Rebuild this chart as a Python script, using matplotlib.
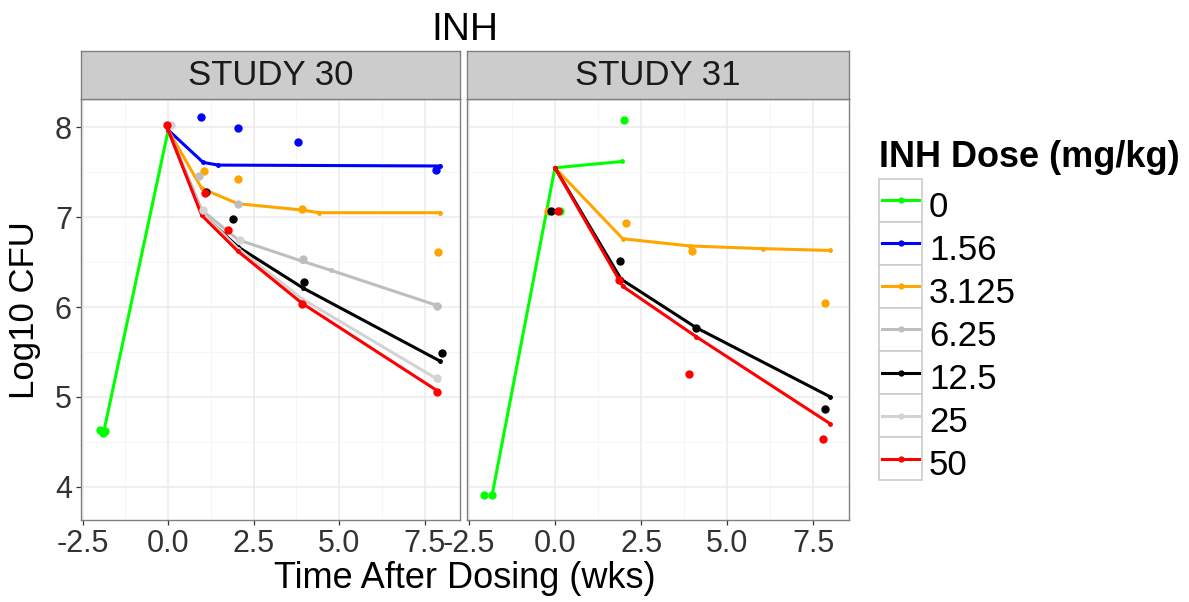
import matplotlib
matplotlib.use("Agg")
import matplotlib.pyplot as plt
from matplotlib.lines import Line2D
from matplotlib.patches import Rectangle
from matplotlib.legend_handler import HandlerBase

plt.rcParams['font.family'] = ['Liberation Sans', 'DejaVu Sans']

# dose groups and colours
doses = ['0', '1.56', '3.125', '6.25', '12.5', '25', '50']
colors = ['#00ff00', '#0000ff', '#ffa500', '#bebebe', '#000000', '#d3d3d3', '#ff0000']
studies = ['STUDY 30', 'STUDY 31']

# study 30 - model predictions (weeks, log10 CFU)
s30_pred_t = {
    '0': [-1.88, 0.0],
    '1.56': [0.0, 1.02, 1.46, 7.94],
    '3.125': [0.0, 0.98, 2.04, 3.92, 4.4, 7.94],
    '6.25': [0.0, 0.98, 2.04, 3.92, 4.75, 7.92],
    '12.5': [0.0, 0.98, 2.04, 3.95, 7.94],
    '25': [0.0, 0.98, 2.04, 3.92, 7.9],
    '50': [0.0, 0.98, 2.04, 3.92, 7.9],
}
s30_pred_y = {
    '0': [4.62, 7.97],
    '1.56': [7.97, 7.61, 7.58, 7.57],
    '3.125': [7.97, 7.32, 7.15, 7.08, 7.05, 7.05],
    '6.25': [7.97, 7.08, 6.75, 6.51, 6.41, 6.01],
    '12.5': [7.97, 7.04, 6.67, 6.21, 5.40],
    '25': [7.97, 7.05, 6.65, 6.09, 5.19],
    '50': [7.97, 7.02, 6.62, 6.04, 5.06],
}
# study 30 - observations
s30_obs_t = {
    '0': [-2.0, -1.9, -1.85],
    '1.56': [0.95, 2.03, 3.80, 7.83],
    '3.125': [1.05, 2.03, 3.90, 7.88],
    '6.25': [0.9, 2.03, 3.93, 7.87],
    '12.5': [1.10, 1.90, 3.97, 7.99],
    '25': [0.08, 1.02, 2.10, 7.87],
    '50': [-0.05, 1.07, 1.75, 3.91, 7.87],
}
s30_obs_y = {
    '0': [4.63, 4.60, 4.62],
    '1.56': [8.11, 7.99, 7.84, 7.53],
    '3.125': [7.51, 7.43, 7.09, 6.61],
    '6.25': [7.46, 7.15, 6.53, 6.01],
    '12.5': [7.28, 6.98, 6.28, 5.49],
    '25': [8.03, 7.08, 6.75, 5.21],
    '50': [8.03, 7.27, 6.86, 6.03, 5.06],
}

# study 31 - model predictions
s31_pred_t = {
    '0': [-1.82, 0.0, 1.94],
    '3.125': [0.0, 1.97, 3.91, 6.04, 7.99],
    '12.5': [0.0, 1.92, 4.10, 7.99],
    '50': [0.0, 1.97, 4.10, 7.99],
}
s31_pred_y = {
    '0': [3.91, 7.55, 7.62],
    '3.125': [7.55, 6.76, 6.68, 6.65, 6.63],
    '12.5': [7.55, 6.31, 5.77, 5.00],
    '50': [7.55, 6.23, 5.67, 4.70],
}
# study 31 - observations
s31_obs_t = {
    '0': [-2.05, -1.82, 0.15, 1.99],
    '3.125': [-0.21, 2.07, 3.99, 7.84],
    '12.5': [-0.12, 1.90, 4.10, 7.84],
    '50': [0.08, 1.85, 3.89, 7.77],
}
s31_obs_y = {
    '0': [3.91, 3.91, 7.07, 8.08],
    '3.125': [7.07, 6.93, 6.62, 6.04],
    '12.5': [7.07, 6.51, 5.77, 4.86],
    '50': [7.07, 6.30, 5.26, 4.53],
}

panels = [(s30_pred_t, s30_pred_y, s30_obs_t, s30_obs_y),
          (s31_pred_t, s31_pred_y, s31_obs_t, s31_obs_y)]


class BoxedKey(HandlerBase):
    # ggplot style legend key: grey bordered box with a line and a dot
    def create_artists(self, legend, orig_handle, xdescent, ydescent,
                       width, height, fontsize, trans):
        shift = -3.7  # lift keys a little so labels sit lower in the box
        box = Rectangle((-xdescent, -ydescent - shift), width, height, facecolor='white',
                        edgecolor='#cccccc', lw=1.2, transform=trans)
        y = height / 2 - ydescent - shift
        ln = Line2D([-xdescent + 0.08 * width, -xdescent + 0.92 * width], [y, y],
                    color=orig_handle.get_color(), lw=2.2, transform=trans)
        dot = Line2D([-xdescent + width / 2], [y], marker='o', ms=3.5, lw=0,
                     color=orig_handle.get_color(), transform=trans)
        return [box, ln, dot]


fig = plt.figure(figsize=(11.89, 6.02), dpi=100)
W, H = 1189.0, 602.0
lefts = [81, 467]
rights = [460, 849]
top, bottom, strip_top = 99.5, 520, 51

for i, (pt, py, ot, oy) in enumerate(panels):
    ax = fig.add_axes([lefts[i] / W, 1 - bottom / H, (rights[i] - lefts[i]) / W, (bottom - top) / H])
    ax.set_xlim(-2.55, 8.53)
    ax.set_ylim(3.63, 8.31)
    ax.set_xticks([-2.5, 0.0, 2.5, 5.0, 7.5])
    ax.set_xticklabels(['-2.5', '0.0', '2.5', '5.0', '7.5'])
    ax.set_xticks([-1.25, 1.25, 3.75, 6.25], minor=True)
    ax.set_yticks([4, 5, 6, 7, 8])
    ax.set_yticks([4.5, 5.5, 6.5, 7.5], minor=True)
    ax.grid(which='major', color='#ebebeb', lw=1.1)
    ax.grid(which='minor', color='#f5f5f5', lw=0.6)
    ax.set_axisbelow(True)
    for sp in ax.spines.values():
        sp.set_color('#808080')
        sp.set_linewidth(1.0)
    ax.tick_params(which='major', length=3.5, width=0.9, color='#333333',
                   labelsize=22, labelcolor='#333333', pad=3)
    ax.tick_params(which='minor', length=0)
    if i == 1:
        ax.tick_params(axis='y', left=False, labelleft=False)

    for d, c in zip(doses, colors):
        if d in pt:
            ax.plot(pt[d], py[d], color=c, lw=2.2, marker='o', ms=2.5, zorder=3)
    for d, c in zip(doses, colors):
        if d in ot:
            ax.plot(ot[d], oy[d], color=c, lw=0, marker='o', ms=5, zorder=4)

    # facet strip
    sax = fig.add_axes([lefts[i] / W, 1 - top / H, (rights[i] - lefts[i]) / W, (top - strip_top) / H])
    sax.set_facecolor('#cccccc')
    sax.set_xticks([])
    sax.set_yticks([])
    for sp in sax.spines.values():
        sp.set_color('#808080')
        sp.set_linewidth(1.0)
    sax.text(0.5, 0.5, studies[i], ha='center', va='center', fontsize=25, color='#1a1a1a',
             transform=sax.transAxes)

fig.text(465 / W, 1 - 30 / H, 'INH', ha='center', va='center', fontsize=28)
fig.text(465 / W, 1 - 579 / H, 'Time After Dosing (wks)', ha='center', va='center', fontsize=26)
fig.text(25 / W, 1 - 310 / H, 'Log10 CFU', ha='center', va='center', rotation=90, fontsize=25)

# legend title drawn separately so the keys can be placed freely
fig.text(879 / W, 1 - 167 / H, 'INH Dose (mg/kg)', ha='left', va='baseline',
         fontsize=26, fontweight='bold')
handles = [Line2D([], [], color=c, lw=2.2) for c in colors]
leg = fig.legend(handles, doses, loc='upper left', bbox_to_anchor=(879 / W, 1 - 184 / H),
                 frameon=False, fontsize=25,
                 handler_map={Line2D: BoxedKey()}, handlelength=1.24, handleheight=1.53,
                 handletextpad=0.2, labelspacing=0, borderpad=0, borderaxespad=0)

fig.savefig('out.png', dpi=100)
